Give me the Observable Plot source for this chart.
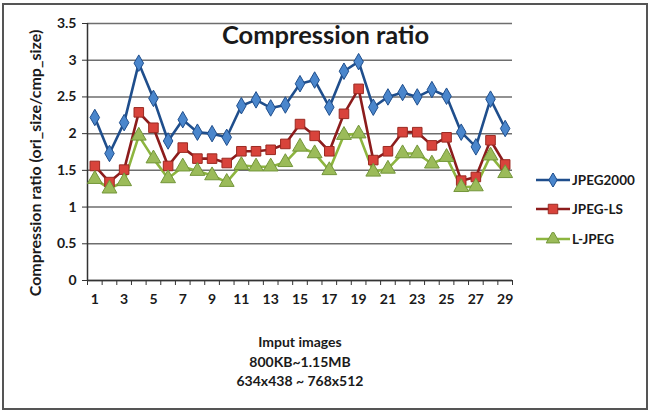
<!DOCTYPE html>
<html><head><meta charset="utf-8">
<script src="https://cdn.jsdelivr.net/npm/d3@7"></script>
<script src="https://cdn.jsdelivr.net/npm/@observablehq/plot@0.6"></script>
<style>
body{margin:0;background:#fff;}
#wrap{position:relative;width:651px;height:413px;font-family:Lato,"Open Sans",sans-serif;color:#1a1a1a;overflow:hidden;}
#frame{position:absolute;left:2px;top:3px;width:642px;height:403px;border:2px solid #555;pointer-events:none;}
#chart{position:absolute;left:0;top:0;}
#title{position:absolute;left:222px;width:200px;top:19px;text-align:center;font-weight:bold;font-size:25.5px;white-space:nowrap;}
#caption{position:absolute;left:200px;width:200px;top:332px;text-align:center;font-weight:bold;font-size:14px;line-height:19.5px;white-space:nowrap;}
#legend{position:absolute;left:536px;top:165px;font-size:13.5px;font-weight:bold;}
#legend .item{display:flex;align-items:center;height:29.5px;}
#legend svg{margin-right:2px;}
</style>
</head><body>
<div id="wrap">
  <div id="chart"></div>
  <div id="title"></div>
  <div id="caption"></div>
  <div id="legend"></div>
  <div id="frame"></div>
</div>
<script>
const titleText = "Compression ratio";
const yLabel = "Compression ratio (ori_size/cmp_size)";
const captionLines = ["Imput images", "800KB~1.15MB", "634x438 ~ 768x512"];
const images = d3.range(1, 30);
const seriesNames = ["JPEG2000", "JPEG-LS", "L-JPEG"];
const jpeg2000 = [2.22,1.73,2.15,2.96,2.48,1.90,2.19,2.02,2.00,1.95,2.38,2.46,2.35,2.39,2.68,2.73,2.36,2.85,2.98,2.36,2.50,2.56,2.50,2.60,2.51,2.02,1.82,2.47,2.07];
const jpegLS = [1.56,1.34,1.51,2.29,2.08,1.56,1.81,1.66,1.66,1.60,1.76,1.76,1.78,1.86,2.13,1.97,1.76,2.27,2.61,1.64,1.76,2.02,2.02,1.84,1.95,1.36,1.41,1.91,1.58];
const lJpeg = [1.38,1.25,1.35,1.97,1.66,1.39,1.55,1.49,1.43,1.34,1.57,1.55,1.55,1.61,1.82,1.73,1.50,1.98,2.00,1.48,1.52,1.73,1.73,1.59,1.68,1.27,1.28,1.70,1.46];
const xTickLabels = d3.range(1, 30, 2);
const yTicks = d3.range(0, 3.51, 0.5);

const styles = {
  "JPEG2000": {line: "#1f4e8c", fill: "#4a86cc", stroke: "#1f4e8c", symbol: "diamond", r: 5},
  "JPEG-LS": {line: "#8c1c1c", fill: "#d8433b", stroke: "#9a2a22", symbol: "square", r: 5.4},
  "L-JPEG": {line: "#8db53f", fill: "#9bbb59", stroke: "#73963a", symbol: "triangle", r: 5.5}
};
const valuesBySeries = {"JPEG2000": jpeg2000, "JPEG-LS": jpegLS, "L-JPEG": lJpeg};
const table = seriesNames.flatMap(s => images.map((img, i) => ({series: s, image: img, value: valuesBySeries[s][i]})));

const marks = [
  Plot.gridY(yTicks, {stroke: "#6e6e6e", strokeOpacity: 1, strokeWidth: 1.5}),
  Plot.axisY(yTicks, {tickSize: 5, tickPadding: 6, fontSize: 14, fontWeight: "bold", stroke: "#333",
    label: null, tickFormat: d => String(d)}),
  Plot.text([yLabel], {frameAnchor: "left", textAnchor: "middle", lineAnchor: "middle", rotate: -90, dx: -52, dy: 11, fontSize: 16, fontWeight: "bold", fill: "#1a1a1a"}),
  Plot.axisX(d3.range(0.5, 29.6, 1), {tickSize: 5, tickFormat: () => "", label: null, stroke: "#333"}),
  Plot.axisX(xTickLabels, {tickSize: 0, tickPadding: 14, fontSize: 14, fontWeight: "bold", label: null}),
  Plot.ruleY([0], {stroke: "#333", strokeWidth: 1.5}),
  Plot.ruleX([0.5], {stroke: "#333", strokeWidth: 1.5})
];
for (const s of seriesNames) {
  const st = styles[s];
  const rows = table.filter(d => d.series === s);
  marks.push(Plot.line(rows, {x: "image", y: "value", stroke: st.line, strokeWidth: 2.6}));
}
for (const s of seriesNames) {
  const st = styles[s];
  const rows = table.filter(d => d.series === s);
  marks.push(Plot.dot(rows, {x: "image", y: "value", symbol: () => st.symbol, fill: st.fill, stroke: st.stroke, strokeWidth: 1, r: st.r}));
}

const chart = Plot.plot({
  width: 651, height: 413,
  marginLeft: 87, marginRight: 139, marginTop: 23, marginBottom: 133,
  style: {fontFamily: "Lato, 'Open Sans', sans-serif", color: "#1a1a1a", background: "transparent"},
  x: {domain: [0.5, 29.5], axis: null},
  y: {domain: [0, 3.5], axis: null},
  symbol: {type: "identity"},
  marks
});
document.getElementById("chart").append(chart);
document.getElementById("title").textContent = titleText;
document.getElementById("caption").innerHTML = captionLines.map(l => `<div>${l}</div>`).join("");

const legend = document.getElementById("legend");
for (const s of seriesNames) {
  const st = styles[s];
  const item = document.createElement("div");
  item.className = "item";
  const sym = d3.symbol(st.symbol === "diamond" ? d3.symbolDiamond : st.symbol === "square" ? d3.symbolSquare : d3.symbolTriangle, st.symbol === "diamond" ? 60 : st.symbol === "square" ? 90 : 80)();
  item.innerHTML = `<svg width="34" height="14"><line x1="0" x2="34" y1="7" y2="7" stroke="${st.line}" stroke-width="2.6"/><path d="${sym}" transform="translate(17,7)" fill="${st.fill}" stroke="${st.stroke}" stroke-width="1"/></svg><span>${s}</span>`;
  legend.append(item);
}
</script>
</body></html>
